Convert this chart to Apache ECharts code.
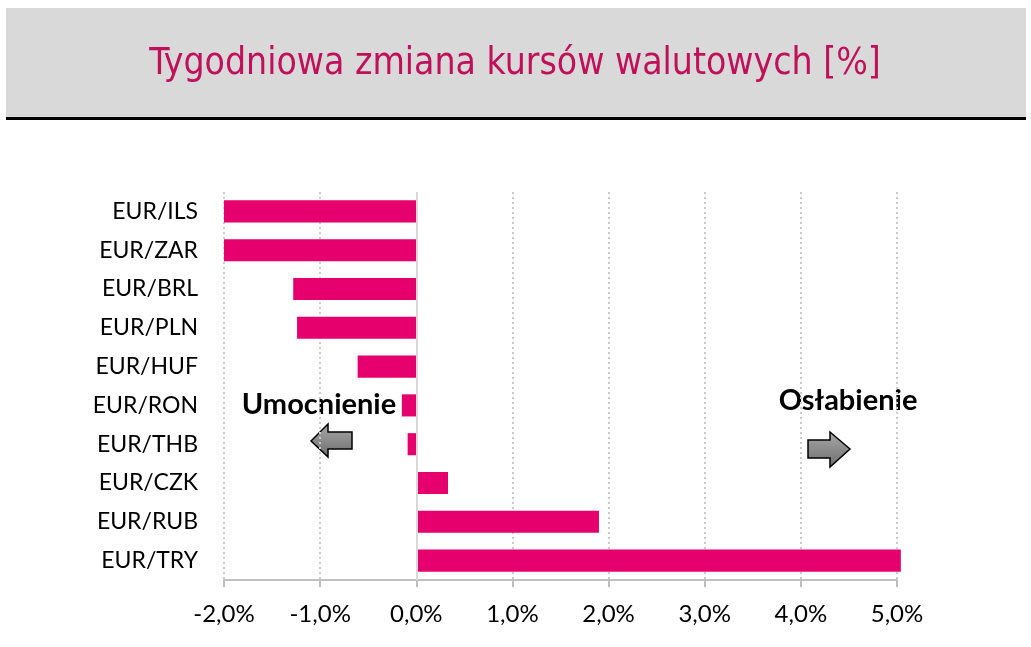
<!DOCTYPE html>
<html>
<head>
<meta charset="utf-8">
<script src="https://cdn.jsdelivr.net/npm/echarts@6/dist/echarts.min.js"></script>
<style>
  html, body { margin: 0; padding: 0; background: #fff; }
  #chart { width: 1031px; height: 647px; }
</style>
</head>
<body>
<div id="chart"></div>
<script>
// dane z wykresu (od góry do dołu)
var pairs = ["EUR/ILS", "EUR/ZAR", "EUR/BRL", "EUR/PLN", "EUR/HUF", "EUR/RON", "EUR/THB", "EUR/CZK", "EUR/RUB", "EUR/TRY"];
var changes = [-2.0, -2.0, -1.28, -1.24, -0.61, -0.15, -0.09, 0.33, 1.90, 5.04];
var axisMin = -2, axisMax = 5, axisStep = 1;
var titleText = "Tygodniowa zmiana kursów walutowych [%]";

var myChart = echarts.init(document.getElementById("chart"));

function fmt(v) {
  return v.toFixed(1).replace(".", ",") + "%";
}

var arrowFill = new echarts.graphic.LinearGradient(0, 0, 0, 1, [
  { offset: 0, color: "#a8a8a8" },
  { offset: 1, color: "#6e6e6e" }
]);

var option = {
  animation: false,
  backgroundColor: "#fff",
  grid: {
    left: 224,
    right: 134,
    top: 192,
    bottom: 67
  },
  xAxis: {
    type: "value",
    min: axisMin,
    max: axisMax,
    interval: axisStep,
    axisLine: { show: true, lineStyle: { color: "#bfbfbf", width: 2 } },
    axisTick: { show: true, length: 7, lineStyle: { color: "#bfbfbf", width: 2 } },
    axisLabel: {
      formatter: fmt,
      fontFamily: "Lato",
      fontSize: 24,
      color: "#000",
      margin: 22
    },
    splitLine: {
      show: true,
      lineStyle: { color: "#cccccc", type: [2, 3], width: 2 }
    }
  },
  yAxis: {
    type: "category",
    inverse: true,
    data: pairs,
    axisLine: { show: false },
    axisTick: { show: false },
    axisLabel: {
      fontFamily: "Lato",
      fontSize: 23,
      color: "#000",
      margin: 26
    }
  },
  series: [
    {
      type: "bar",
      data: changes,
      barCategoryGap: "43%",
      clip: false,
      itemStyle: { color: "#e6006e" },
      markLine: {
        silent: true,
        symbol: "none",
        label: { show: false },
        lineStyle: { color: "#d9d9d9", type: "solid", width: 2 },
        data: [{ xAxis: 0 }]
      }
    }
  ],
  graphic: [
    {
      type: "rect",
      shape: { x: 6, y: 8, width: 1020, height: 110 },
      style: { fill: "#d9d9d9" },
      z: -1
    },
    {
      type: "rect",
      shape: { x: 6, y: 117, width: 1020, height: 3 },
      style: { fill: "#000" }
    },
    {
      type: "text",
      x: 515,
      y: 64,
      style: {
        text: titleText,
        fontFamily: "DejaVu Sans Condensed",
        fontSize: 37,
        fill: "#c0105a",
        align: "center",
        verticalAlign: "middle"
      }
    },
    {
      type: "text",
      x: 319,
      y: 405,
      style: {
        text: "Umocnienie",
        fontFamily: "Lato",
        fontWeight: "bold",
        fontSize: 29,
        fill: "#000",
        align: "center",
        verticalAlign: "middle"
      }
    },
    {
      type: "text",
      x: 848,
      y: 401,
      style: {
        text: "Osłabienie",
        fontFamily: "Lato",
        fontWeight: "bold",
        fontSize: 29,
        fill: "#000",
        align: "center",
        verticalAlign: "middle"
      }
    },
    {
      // strzałka w lewo
      type: "polygon",
      shape: {
        points: [[311, 441], [328, 424], [328, 432], [352, 432], [352, 449], [328, 449], [328, 457]]
      },
      style: { fill: arrowFill, stroke: "#000", lineWidth: 1.5 }
    },
    {
      // strzałka w prawo
      type: "polygon",
      shape: {
        points: [[808, 440], [830, 440], [830, 432], [850, 449], [830, 467], [830, 458], [808, 458]]
      },
      style: { fill: arrowFill, stroke: "#000", lineWidth: 1.5 }
    }
  ]
};

myChart.setOption(option);
</script>
</body>
</html>
